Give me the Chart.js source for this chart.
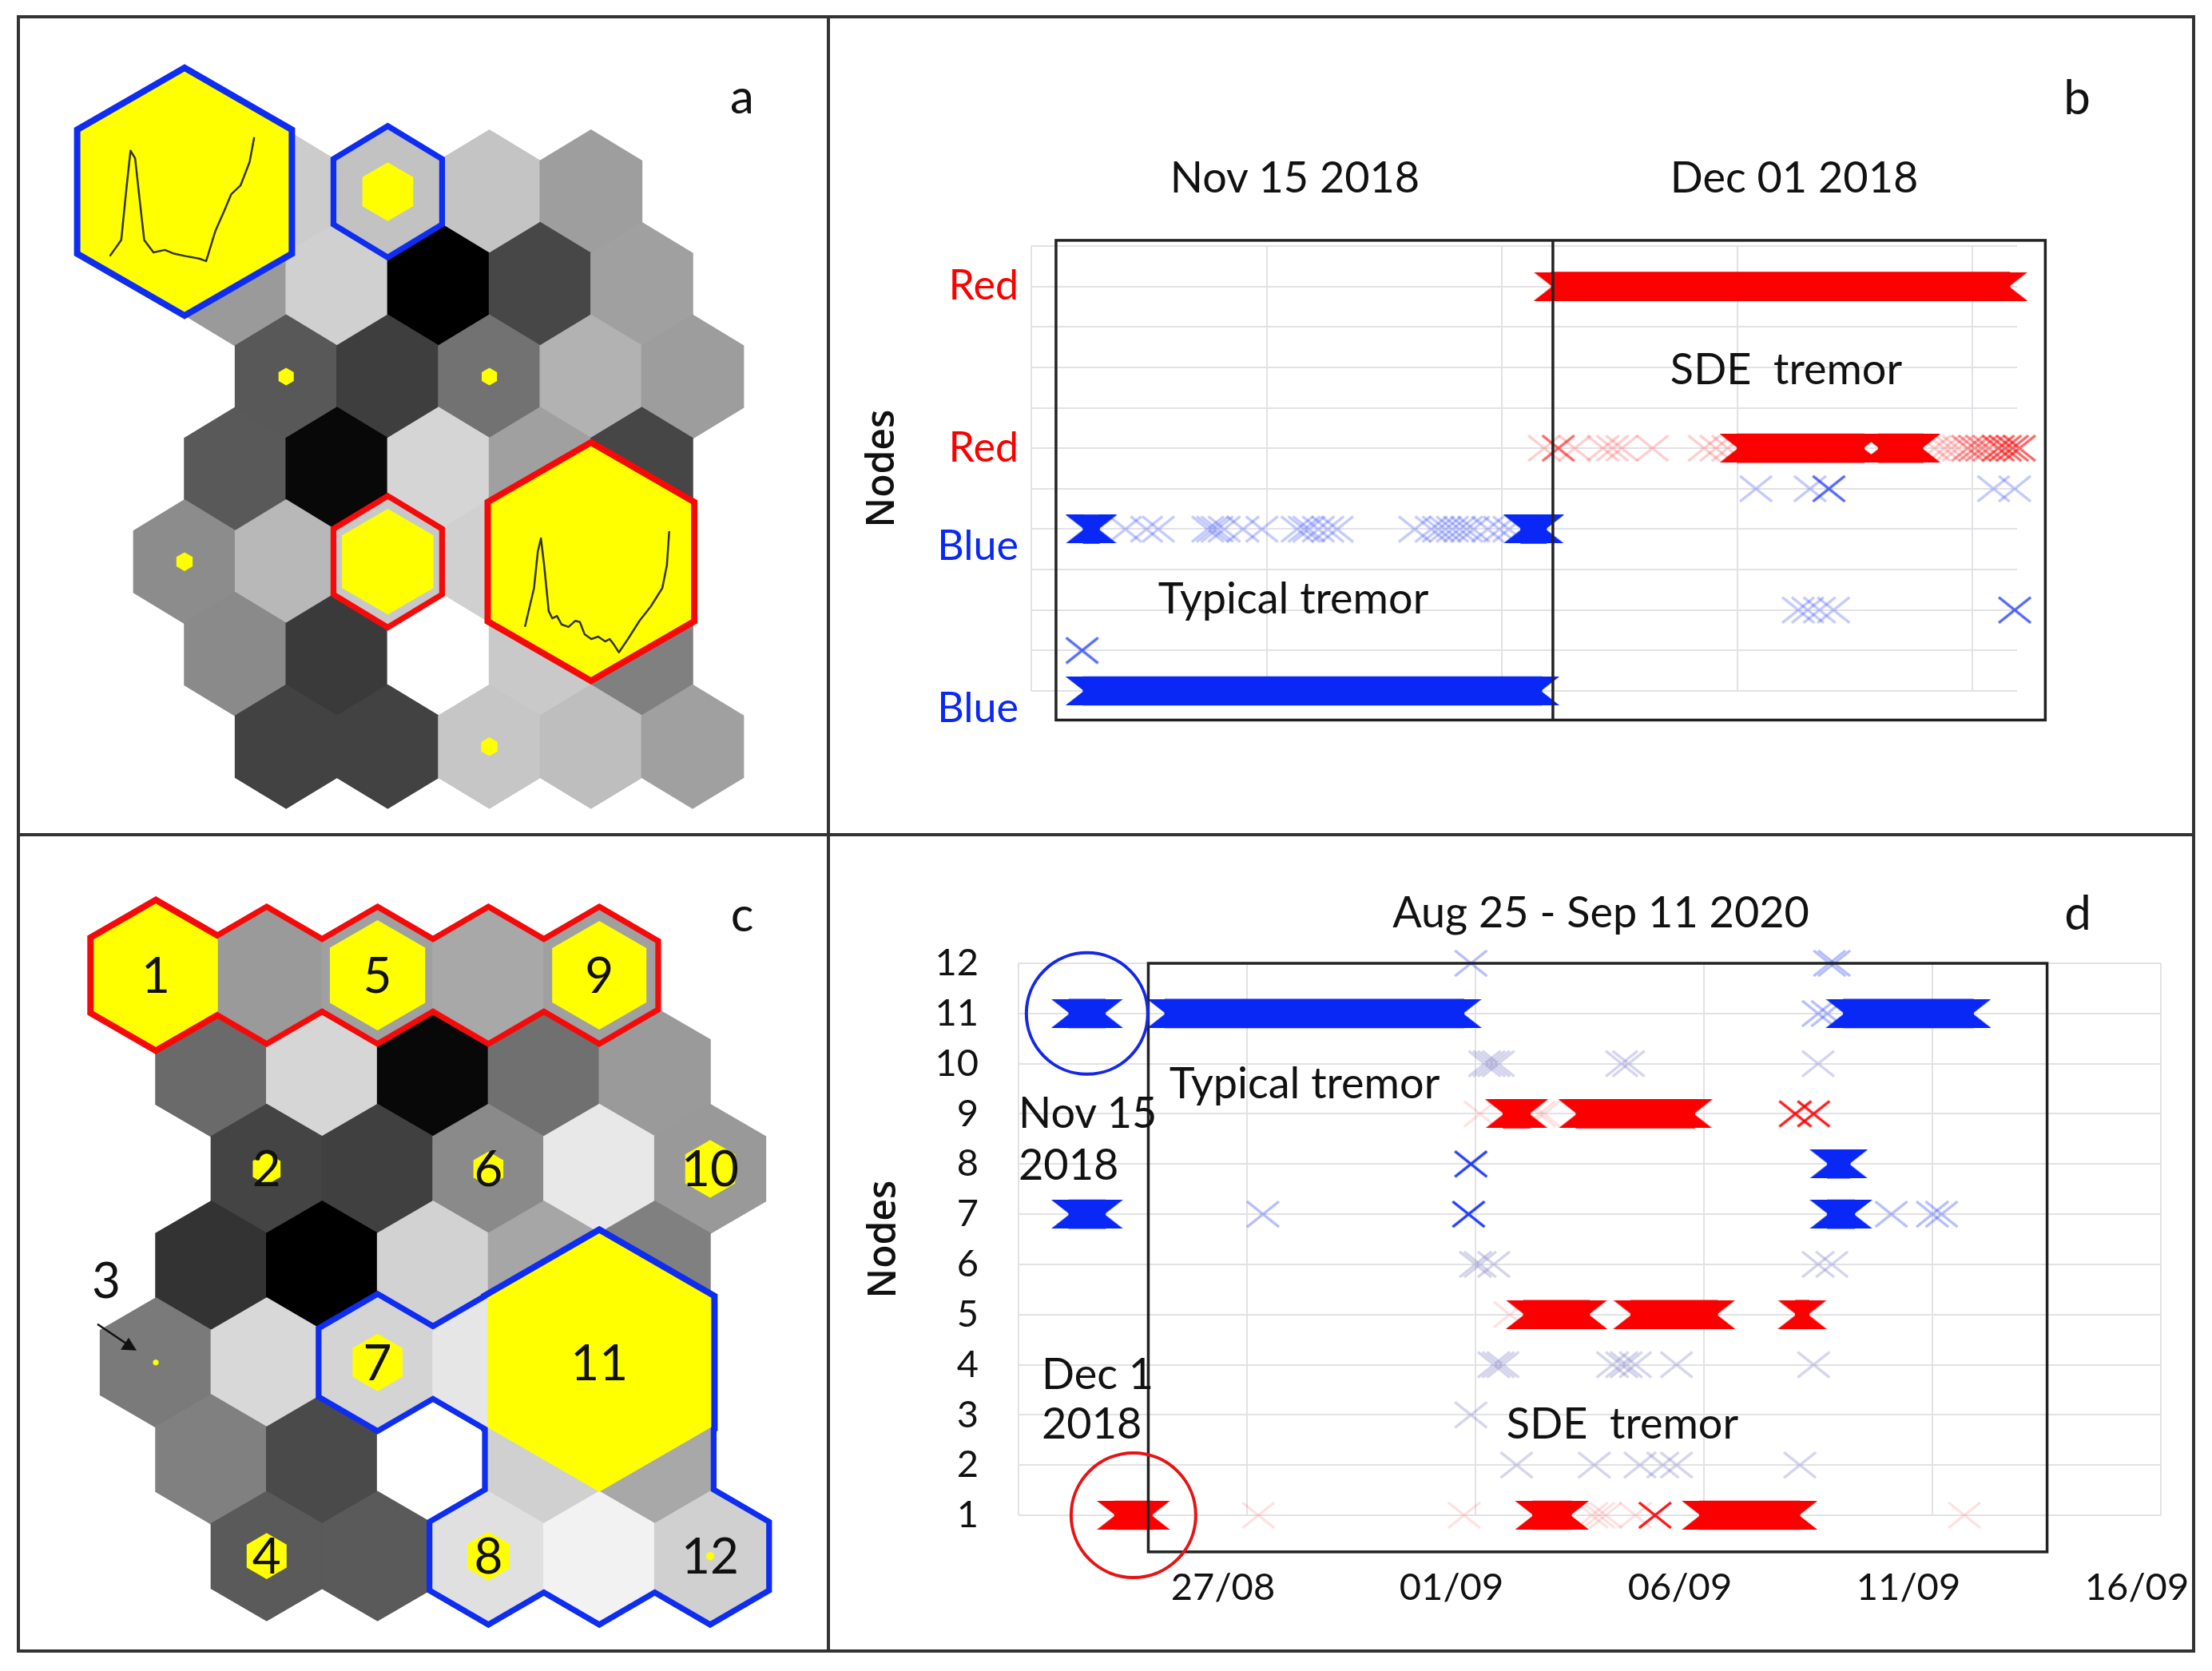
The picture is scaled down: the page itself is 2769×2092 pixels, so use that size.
<!DOCTYPE html>
<html>
<head>
<meta charset="utf-8">
<title>SOM nodes of tremor</title>
<script src="https://cdn.jsdelivr.net/npm/chart.js@4.4.1/dist/chart.umd.min.js"></script>
<style>
  body { margin: 0; width: 2769px; height: 2092px; background: #fff; position: relative; overflow: hidden; font-family: Lato, sans-serif; }
  canvas { position: absolute; }
  .line { position: absolute; background: #333; }
  .txt { position: absolute; transform: translate(-50%, -50%); white-space: pre; color: #111; font-size: 54px; line-height: 1; }
  .lft { transform: translate(0, -50%); }
  .big { font-size: 60px; }
</style>
</head>
<body>
<div class="line" style="left:21px;top:19px;width:2727px;height:4px"></div>
<div class="line" style="left:21px;top:2065px;width:2727px;height:4px"></div>
<div class="line" style="left:21px;top:19px;width:4px;height:2050px"></div>
<div class="line" style="left:2744px;top:19px;width:4px;height:2050px"></div>
<div class="line" style="left:1035px;top:19px;width:4px;height:2050px"></div>
<div class="line" style="left:21px;top:1043px;width:2727px;height:4px"></div>

<canvas id="chartA" width="1010" height="1020" style="left:25px;top:23px"></canvas>
<canvas id="chartB" width="1706" height="1020" style="left:1039px;top:23px"></canvas>
<canvas id="chartC" width="1010" height="1017" style="left:25px;top:1048px"></canvas>
<canvas id="chartD" width="1706" height="1017" style="left:1039px;top:1048px"></canvas>

<div class="txt big" style="left:929px;top:119px">a</div>
<div class="txt big" style="left:2600px;top:120px">b</div>
<div class="txt big" style="left:929px;top:1143px">c</div>
<div class="txt big" style="left:2601px;top:1141px">d</div>

<div class="txt" style="left:1621px;top:221px">Nov 15 2018</div>
<div class="txt" style="left:2246px;top:221px">Dec 01 2018</div>
<div class="txt" style="left:2236px;top:461px">SDE  tremor</div>
<div class="txt" style="left:1619px;top:748px">Typical tremor</div>

<div class="txt" style="left:2004px;top:1141px">Aug 25 - Sep 11 2020</div>
<div class="txt" style="left:1633px;top:1355px">Typical tremor</div>
<div class="txt lft" style="left:1275px;top:1392px">Nov 15</div>
<div class="txt lft" style="left:1275px;top:1457px">2018</div>
<div class="txt lft" style="left:1304px;top:1719px">Dec 1</div>
<div class="txt lft" style="left:1304px;top:1781px">2018</div>
<div class="txt" style="left:2031px;top:1781px">SDE  tremor</div>

<script>
// ---------------- data ----------------
// SOM layout: 7 rows x 5 columns, each row shifted by this many half cells
const rowShift = [0, 1, 2, 1, 0, 1, 2];

// panel a: U-matrix grey level of every cell (0 black .. 255 white)
const umatA = [
  [153, 204, 194, 196, 158],
  [154, 208, 0, 71, 160],
  [88, 62, 114, 178, 157],
  [89, 8, 213, 160, 70],
  [140, 184, 200, 208, 176],
  [138, 58, 255, 201, 128],
  [66, 66, 198, 190, 160]
];
// panel a: hits per node [row, col, relative hexagon size]
const hitsA = [[0, 0, 2.05], [0, 2, 0.5], [2, 0, 0.15], [2, 2, 0.15], [4, 0, 0.16], [4, 2, 0.9], [4, 4, 1.97], [6, 2, 0.16]];
// panel a: outlined clusters
const clustersA = [
  { name: 'blue', cells: [], hits: [[0, 0]] },
  { name: 'blue', cells: [[0, 2]], hits: [] },
  { name: 'red', cells: [[4, 2]], hits: [] },
  { name: 'red', cells: [], hits: [[4, 4]] }
];
// mean spectra drawn in the two large nodes (x 0..1, amplitude 0..1)
const specBlueX = [0, .079, .117, .143, .175, .206, .238, .302, .381, .444, .524, .619, .667, .730, .794, .841, .905, .968, 1];
const specBlueY = [.04, .17, .61, .89, .83, .5, .17, .07, .09, .06, .04, .02, 0, .24, .41, .54, .61, .8, 1];
const specRedX = [0, .063, .089, .111, .133, .165, .19, .222, .254, .302, .349, .381, .413, .46, .508, .556, .587, .619, .651, .714, .794, .873, .952, .984, 1];
const specRedY = [.21, .53, .83, .94, .72, .34, .28, .3, .23, .21, .26, .25, .15, .11, .13, .09, .11, .06, 0, .11, .26, .38, .53, .72, 1];

// panel c: U-matrix grey levels
const umatC = [
  [153, 154, 160, 168, 160],
  [106, 214, 8, 112, 154],
  [68, 64, 138, 232, 153],
  [51, 0, 210, 166, 128],
  [122, 216, 212, 230, 204],
  [128, 74, 255, 208, 168],
  [90, 90, 224, 242, 208]
];
// nodes 1..12: cell of each node and its relative hit size
const nodeCells = [[0, 0], [2, 0], [4, 0], [6, 0], [0, 2], [2, 2], [4, 2], [6, 2], [0, 4], [2, 4], [4, 4], [6, 4]];
const nodeHits = [1.12, 0.25, 0.05, 0.36, 0.86, 0.27, 0.45, 0.38, 0.85, 0.45, 2.02, 0.07];
const clustersC = [
  { name: 'red', cells: [[0, 0], [0, 1], [0, 2], [0, 3], [0, 4]], hits: [[0, 0]] },
  { name: 'blue', cells: [[4, 2], [4, 3], [4, 4], [5, 3], [5, 4], [6, 2], [6, 3], [6, 4]], hits: [[4, 4]] }
];

// panel b: x = analysis window, y = node; runs are [start, end, node]
const bNodeNames = ['Blue', '', '', '', 'Blue', '', 'Red', '', '', '', 'Red', ''];
const bBlueRuns = [[22, 217, 1], [22, 29, 5], [208, 219, 5]];
const bRedRuns = [[221, 416, 11], [300, 354, 7], [360, 379, 7]];
const bBlueFaint = [[40, 5], [49, 5], [54, 5], [75, 5], [77, 5], [79, 5], [82, 5], [90, 5], [98, 5], [113, 5], [116, 5], [118, 5], [122, 5], [126, 5], [130, 5],
  [163, 5], [170, 5], [173, 5], [176, 5], [179, 5], [182, 5], [185, 5], [188, 5], [194, 5], [199, 5], [203, 5],
  [308, 6], [331, 6], [409, 6], [418, 6], [326, 3], [330, 3], [335, 3], [341, 3]];
const bBlueStrong = [[21.6, 2], [339, 6], [418, 3]];
const bRedFaint = [[218, 7], [231, 7], [243, 7], [247, 7], [251, 7], [264, 7], [286, 7], [291, 7], [296, 7], [384, 7], [388, 7], [391, 7], [394, 7]];
const bRedMedium = [[398, 7], [401, 7], [404, 7], [407, 7]];
const bRedStrong = [[224, 7], [411, 7], [414, 7], [417, 7], [420, 7]];

// panel d: x = day (Aug 22 .. Sep 16 2020), y = node
const dTickDays = [22, 27, 32, 37, 42, 47];
const dTickLabels = ['', '27/08', '01/09', '06/09', '11/09', '16/09'];
const dBlueRuns = [[23.1, 23.9, 11], [25.2, 31.75, 11], [40.05, 42.9, 11], [39.7, 40.2, 8], [23.1, 23.9, 7], [39.7, 40.3, 7]];
const dRedRuns = [[24.1, 24.93, 1], [33.25, 34.1, 1], [36.9, 39.1, 1], [32.6, 33.2, 9], [34.2, 36.8, 9], [33.05, 34.5, 5], [35.4, 37.3, 5], [39.0, 39.3, 5]];
const dBlueStrong = [[31.9, 8], [31.85, 7]];
const dBlueFaint = [[31.9, 12], [39.75, 12], [39.85, 12], [39.5, 11], [39.7, 11], [27.35, 7], [41.1, 7], [42.0, 7], [42.2, 7]];
const dGreyFaint = [[32.2, 10], [32.3, 10], [32.4, 10], [32.5, 10], [35.2, 10], [35.35, 10], [39.5, 10], [32.0, 6], [32.1, 6], [32.4, 6], [39.5, 6], [39.8, 6],
  [32.4, 4], [32.5, 4], [32.6, 4], [35.0, 4], [35.2, 4], [35.3, 4], [35.5, 4], [36.4, 4], [39.4, 4], [31.9, 3],
  [32.9, 2], [34.6, 2], [35.6, 2], [36.1, 2], [36.4, 2], [39.1, 2]];
const dRedStrong = [[35.93, 1], [39.0, 9], [39.4, 9]];
const dRedFaint = [[27.25, 1], [31.75, 1], [34.55, 1], [34.7, 1], [34.85, 1], [35.5, 1], [42.7, 1], [32.1, 9], [33.4, 9], [33.5, 9], [32.75, 5]];

// ---------------- styles ----------------
const blue = 'rgb(10, 40, 245)';
const red = 'rgb(250, 0, 0)';
const greyBlue = 'rgb(110, 110, 190)';
const gridCol = '#e2e2e6';
const clusterColor = { blue: 'rgb(15, 45, 240)', red: 'rgb(245, 10, 10)' };
Chart.defaults.font.family = 'Lato';
Chart.defaults.color = '#111';

function rgba(rgb, a) { return rgb.replace('rgb(', 'rgba(').replace(')', ', ' + a + ')'); }

function crossImg(color) {
  const c = document.createElement('canvas');
  c.width = 44; c.height = 36;
  const g = c.getContext('2d');
  g.strokeStyle = color; g.lineWidth = 3.5;
  g.beginPath(); g.moveTo(2, 2); g.lineTo(42, 34); g.moveTo(42, 2); g.lineTo(2, 34); g.stroke();
  return c;
}

// notched end of a dense run of crosses (side -1 = start, 1 = end)
function capImg(color, side) {
  const c = document.createElement('canvas');
  c.width = 44; c.height = 36;
  const g = c.getContext('2d');
  g.fillStyle = color;
  g.beginPath();
  if (side < 0) { g.moveTo(23, 0); g.lineTo(0, 0); g.lineTo(23, 18); g.lineTo(0, 36); g.lineTo(23, 36); }
  else { g.moveTo(21, 0); g.lineTo(44, 0); g.lineTo(21, 18); g.lineTo(44, 36); g.lineTo(21, 36); }
  g.closePath(); g.fill();
  return c;
}

function marks(points, color, alpha) {
  return { type: 'scatter', data: points.map(p => ({ x: p[0], y: p[1] })), pointStyle: crossImg(rgba(color, alpha)), pointRadius: 18, clip: false };
}

function runs(list, color) {
  return [
    { type: 'bar', indexAxis: 'y', data: list.map(r => ({ x: [r[0], r[1]], y: r[2] })), backgroundColor: color,
      barThickness: 36, borderWidth: 0, grouped: false, clip: false },
    { type: 'scatter', data: list.map(r => ({ x: r[0], y: r[2] })), pointStyle: capImg(color, -1), pointRadius: 18, clip: false },
    { type: 'scatter', data: list.map(r => ({ x: r[1], y: r[2] })), pointStyle: capImg(color, 1), pointRadius: 18, clip: false }
  ];
}

function hexPath(ctx, cx, cy, hw, hr) {
  ctx.beginPath();
  ctx.moveTo(cx, cy - hr);
  ctx.lineTo(cx + hw, cy - hr / 2);
  ctx.lineTo(cx + hw, cy + hr / 2);
  ctx.lineTo(cx, cy + hr);
  ctx.lineTo(cx - hw, cy + hr / 2);
  ctx.lineTo(cx - hw, cy - hr / 2);
  ctx.closePath();
}

// draws the SOM hexagons through the chart scales
function hexPlugin(cfg) {
  return {
    id: 'hexmap',
    afterDatasetsDraw(chart) {
      const ctx = chart.ctx, sx = chart.scales.x, sy = chart.scales.y;
      const hw = Math.abs(sx.getPixelForValue(1) - sx.getPixelForValue(0)) / 2;
      const hr = Math.abs(sy.getPixelForValue(1) - sy.getPixelForValue(0)) / 1.5;
      const cx = (r, c) => sx.getPixelForValue(c + rowShift[r] / 2);
      const cy = r => sy.getPixelForValue(r);
      const cell = (r, c) => hexPath(ctx, cx(r, c), cy(r), hw, hr);
      // hit hexagons are regular, scaled from the cell width
      const hit = (r, c, s) => hexPath(ctx, cx(r, c), cy(r), hw * s, hw * s / Math.cos(Math.PI / 6));
      const hitSize = (r, c) => cfg.hits.find(h => h[0] === r && h[1] === c)[2];
      const grey = v => 'rgb(' + v + ',' + v + ',' + v + ')';
      const fillCell = (r, c) => {
        cell(r, c);
        ctx.fillStyle = grey(cfg.umat[r][c]); ctx.fill();
        ctx.strokeStyle = grey(cfg.umat[r][c]); ctx.lineWidth = 1.5; ctx.stroke();
      };
      ctx.save();
      ctx.lineJoin = 'miter';
      cfg.umat.forEach((row, r) => row.forEach((v, c) => fillCell(r, c)));
      cfg.clusters.forEach(g => {
        ctx.strokeStyle = clusterColor[g.name]; ctx.lineWidth = 16;
        g.cells.forEach(([r, c]) => { cell(r, c); ctx.stroke(); });
        g.hits.forEach(([r, c]) => { hit(r, c, hitSize(r, c)); ctx.stroke(); });
      });
      cfg.clusters.forEach(g => g.cells.forEach(([r, c]) => fillCell(r, c)));
      ctx.fillStyle = 'rgb(255, 255, 0)';
      cfg.hits.forEach(([r, c, s]) => { hit(r, c, s); ctx.fill(); });
      (cfg.spectra || []).forEach(sp => {
        const [r, c] = sp.cell, u0 = c + rowShift[r] / 2;
        ctx.beginPath();
        sp.xs.forEach((t, i) => {
          const px = sx.getPixelForValue(u0 + sp.box[0] + t * (sp.box[1] - sp.box[0]));
          const py = sy.getPixelForValue(r + sp.box[3] - sp.ys[i] * (sp.box[3] - sp.box[2]));
          if (i) ctx.lineTo(px, py); else ctx.moveTo(px, py);
        });
        ctx.strokeStyle = '#33331a'; ctx.lineWidth = 2.5; ctx.lineJoin = 'round'; ctx.stroke();
      });
      ctx.fillStyle = '#111'; ctx.font = '62px Lato'; ctx.textAlign = 'center'; ctx.textBaseline = 'middle';
      (cfg.labels || []).forEach(([r, c, text]) => ctx.fillText(text, cx(r, c), cy(r) + 2));
      if (cfg.pointer) {
        const [r, c] = cfg.pointer.cell, x0 = cx(r, c), y0 = cy(r);
        ctx.fillText(cfg.pointer.text, x0 - 62, y0 - 101);
        ctx.strokeStyle = '#111'; ctx.lineWidth = 2.5;
        ctx.beginPath(); ctx.moveTo(x0 - 73, y0 - 48); ctx.lineTo(x0 - 30, y0 - 19); ctx.stroke();
        ctx.beginPath(); ctx.moveTo(x0 - 24, y0 - 15); ctx.lineTo(x0 - 44, y0 - 16); ctx.lineTo(x0 - 34, y0 - 31); ctx.closePath(); ctx.fill();
      }
      ctx.restore();
    }
  };
}

function hexChart(id, range, cfg) {
  return new Chart(document.getElementById(id), {
    type: 'scatter',
    data: { datasets: [{ data: cfg.umat.flatMap((row, r) => row.map((v, c) => ({ x: c + rowShift[r] / 2, y: r }))), pointRadius: 0 }] },
    options: {
      responsive: false, animation: false, events: [],
      layout: { padding: 0 },
      plugins: { legend: { display: false }, tooltip: { enabled: false } },
      scales: {
        x: { display: false, min: range[0], max: range[1] },
        y: { display: false, min: range[2], max: range[3], reverse: true }
      }
    },
    plugins: [hexPlugin(cfg)]
  });
}

// frame and highlight circles drawn through the chart scales
function overlayPlugin(box, circles) {
  return {
    id: 'overlay',
    afterDatasetsDraw(chart) {
      const ctx = chart.ctx, sx = chart.scales.x, sy = chart.scales.y;
      const x0 = sx.getPixelForValue(box[0]), x1 = sx.getPixelForValue(box[1]);
      const y0 = sy.getPixelForValue(box[2]), y1 = sy.getPixelForValue(box[3]);
      ctx.save();
      ctx.strokeStyle = '#222'; ctx.lineWidth = 3.5;
      ctx.strokeRect(x0, y0, x1 - x0, y1 - y0);
      if (box[4] !== undefined) {
        const xs = sx.getPixelForValue(box[4]);
        ctx.beginPath(); ctx.moveTo(xs, y0); ctx.lineTo(xs, y1); ctx.stroke();
      }
      circles.forEach(cc => {
        ctx.strokeStyle = cc.color; ctx.lineWidth = 4;
        ctx.beginPath(); ctx.arc(sx.getPixelForValue(cc.x), sy.getPixelForValue(cc.y), cc.r, 0, 2 * Math.PI); ctx.stroke();
      });
      ctx.restore();
    }
  };
}

const nodesTitle = { display: true, text: 'Nodes', color: '#111', font: { family: 'Open Sans', size: 48, weight: '600' } };
const fitX = h => s => { s.height = h; s.paddingLeft = 0; s.paddingRight = 0; };
const fitY = w => s => { s.width = w; s.paddingTop = 0; s.paddingBottom = 0; };

// ---------------- panel a ----------------
hexChart('chartA', [-1.6195, 6.3208, -1.8739, 6.9344], {
  umat: umatA, hits: hitsA, clusters: clustersA,
  spectra: [
    { cell: [0, 0], box: [-0.735, 0.686, -0.59, 0.75], xs: specBlueX, ys: specBlueY },
    { cell: [4, 4], box: [-0.65, 0.77, -0.33, 0.98], xs: specRedX, ys: specRedY }
  ]
});

// ---------------- panel c ----------------
hexChart('chartC', [-1.2248, 6.0519, -1.4274, 6.9637], {
  umat: umatC,
  hits: nodeCells.map((p, i) => [p[0], p[1], nodeHits[i]]),
  clusters: clustersC,
  labels: nodeCells.map((p, i) => [p[0], p[1], String(i + 1)]).filter(l => l[2] !== '3'),
  pointer: { cell: nodeCells[2], text: '3' }
});

// ---------------- panel b ----------------
new Chart(document.getElementById('chartB'), {
  type: 'scatter',
  data: {
    datasets: [
      ...runs(bBlueRuns, blue), ...runs(bRedRuns, red),
      marks(bBlueStrong, blue, 0.7), marks(bRedStrong, red, 0.6), marks(bRedMedium, red, 0.4),
      marks(bBlueFaint, blue, 0.25), marks(bRedFaint, red, 0.2)
    ]
  },
  options: {
    responsive: false, animation: false, events: [],
    layout: { padding: { left: 0, top: 285, right: 220, bottom: 178 } },
    plugins: { legend: { display: false }, tooltip: { enabled: false } },
    scales: {
      x: {
        min: 0, max: 419, offset: false,
        ticks: { display: false, stepSize: 100, includeBounds: false },
        grid: { color: gridCol, lineWidth: 2, drawTicks: false, offset: false },
        border: { display: false },
        afterFit: fitX(0)
      },
      y: {
        min: 1, max: 12, offset: false,
        ticks: {
          stepSize: 1, autoSkip: false, padding: 16, font: { size: 52, lineHeight: 0.85 },
          color: c => bNodeNames[c.tick.value - 1] === 'Red' ? red : blue,
          // the Blue names sit a little below their grid line
          callback: v => bNodeNames[v - 1] === 'Blue' ? ['', 'Blue'] : bNodeNames[v - 1]
        },
        grid: { color: gridCol, lineWidth: 2, drawTicks: false, offset: false },
        border: { display: false },
        title: Object.assign({}, nodesTitle, { padding: { top: 38, bottom: 0 } }),
        afterFit: fitY(252)
      }
    }
  },
  plugins: [overlayPlugin([10.5, 431, 12.14, 0.28, 221.7], [])]
});

// ---------------- panel d ----------------
new Chart(document.getElementById('chartD'), {
  type: 'scatter',
  data: {
    datasets: [
      ...runs(dBlueRuns, blue), ...runs(dRedRuns, red),
      marks(dBlueStrong, blue, 0.9), marks(dRedStrong, red, 0.9),
      marks(dBlueFaint, blue, 0.3), marks(dRedFaint, red, 0.12), marks(dGreyFaint, greyBlue, 0.3)
    ]
  },
  options: {
    responsive: false, animation: false, events: [],
    layout: { padding: { left: 0, top: 158, right: 40, bottom: 48 } },
    plugins: { legend: { display: false }, tooltip: { enabled: false } },
    scales: {
      x: {
        min: 22, max: 47, offset: false,
        ticks: {
          stepSize: 5, autoSkip: false, maxRotation: 0, padding: 63, labelOffset: -30, font: { size: 47 },
          callback: v => dTickLabels[dTickDays.indexOf(v)]
        },
        grid: { color: gridCol, lineWidth: 2, drawTicks: false, offset: false },
        border: { display: false },
        afterFit: fitX(120)
      },
      y: {
        min: 1, max: 12, offset: false,
        ticks: { stepSize: 1, autoSkip: false, padding: 50, font: { size: 47 } },
        grid: { color: gridCol, lineWidth: 2, drawTicks: false, offset: false },
        border: { display: false },
        title: Object.assign({}, nodesTitle, { padding: { top: 40, bottom: 0 } }),
        afterFit: fitY(236)
      }
    }
  },
  plugins: [overlayPlugin([24.84, 44.51, 12.0, 0.27], [
    { x: (dBlueRuns[0][0] + dBlueRuns[0][1]) / 2, y: dBlueRuns[0][2], r: 76, color: 'rgb(20, 40, 230)' },
    { x: (dRedRuns[0][0] + dRedRuns[0][1]) / 2, y: dRedRuns[0][2], r: 78, color: 'rgb(230, 20, 20)' }
  ])]
});
</script>
</body>
</html>
